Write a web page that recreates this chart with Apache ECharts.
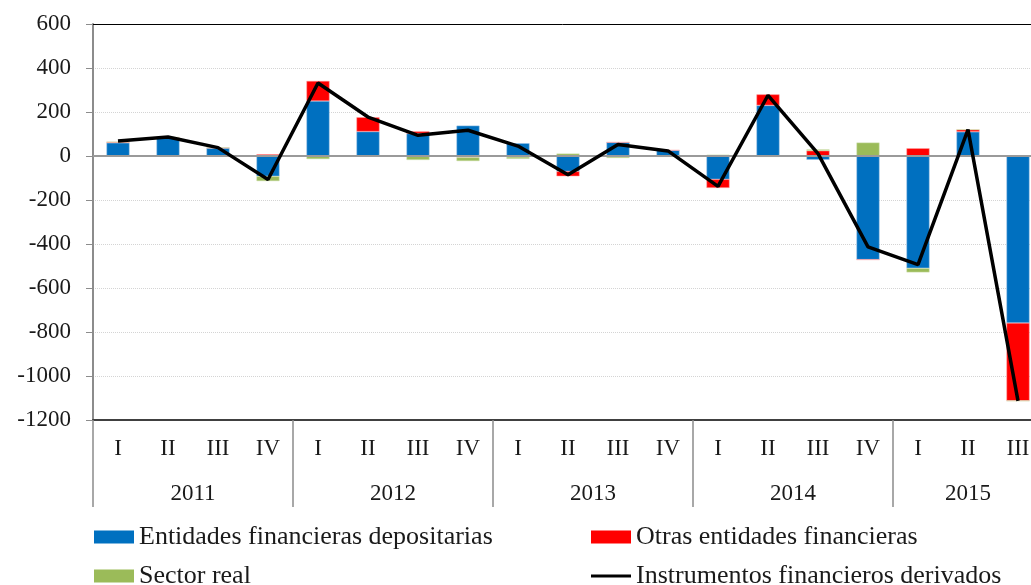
<!DOCTYPE html>
<html>
<head>
<meta charset="utf-8">
<script src="https://cdn.jsdelivr.net/npm/echarts@6/dist/echarts.min.js"></script>
<style>
  html, body { margin: 0; padding: 0; background: #fff; }
  #chart { width: 1031px; height: 585px; }
</style>
</head>
<body>
<div id="chart"></div>
<script>
// quarters on the x axis, grouped by year
const quarters = ['I', 'II', 'III', 'IV', 'I', 'II', 'III', 'IV', 'I', 'II', 'III', 'IV',
  'I', 'II', 'III', 'IV', 'I', 'II', 'III'];
const years = ['2011', '2012', '2013', '2014', '2015'];
const quartersPerYear = [4, 4, 4, 4, 3];

// values
const entidades = [60, 83, 36, -92, 250, 111, 102, 138, 58, -70, 62, 26, -106, 230, -17, -471, -510, 110, -759];
const otras = [4, 2, 2, 8, 91, 65, 10, -6, -4, -22, 0, 0, -39, 50, 24, 0, 35, 10, -354];
const sector = [0, 0, 0, -22, -14, -3, -18, -17, -9, 11, -9, -4, 6, -4, 6, 61, -19, 0, 0];
const derivados = [68, 86, 38, -107, 332, 177, 94, 117, 45, -85, 52, 23, -138, 276, 11, -413, -494, 120, -1113];

const yTicks = { min: -1200, max: 600, step: 200 };

// half-quarter slots so year labels can sit in the middle of each group
const yearSlots = new Array(quarters.length * 2 + 1).fill('');
const yearBounds = [];
let start = 0;
years.forEach((y, i) => {
  yearBounds.push(start * 2);
  yearSlots[start * 2 + quartersPerYear[i]] = y;
  start += quartersPerYear[i];
});

const font = 'Liberation Serif';
const axisTxt = { fontFamily: font, fontSize: 23, color: '#1a1a1a' };
const legendTxt = { fontFamily: font, fontSize: 26, color: '#1a1a1a' };

const myChart = echarts.init(document.getElementById('chart'), null, { renderer: 'canvas' });

const legendItem = (name, left, top, h) => ({
  data: [{ name: name, icon: 'rect' }], left: left, top: top,
  itemWidth: 40, itemHeight: h, itemGap: 0, padding: 0,
  itemStyle: { borderWidth: 0 },
  textStyle: legendTxt, selectedMode: false
});

const option = {
  animation: false,
  backgroundColor: '#fff',
  // plot runs a little past the right edge, as in the original
  grid: { left: 93, right: -12, top: 24, bottom: 165, outerBoundsMode: 'none', containLabel: false },
  legend: [
    legendItem('Entidades financieras depositarias', 94, 524, 13),
    legendItem('Otras entidades financieras', 591, 524, 13),
    legendItem('Sector real', 94, 563, 13),
    legendItem('Instrumentos financieros derivados', 591, 563, 3)
  ],
  xAxis: [
    {
      type: 'category', data: quarters, position: 'bottom',
      axisLine: { onZero: false, lineStyle: { color: '#404040', width: 2 } },
      axisTick: { show: false },
      axisLabel: Object.assign({ margin: 17, interval: 0 }, axisTxt)
    },
    {
      type: 'category', data: yearSlots, position: 'bottom', boundaryGap: false,
      axisLine: { show: false, onZero: false },
      axisTick: { show: true, length: 87, interval: (i) => yearBounds.includes(i), lineStyle: { color: '#8c8c8c', width: 1.5 } },
      axisLabel: Object.assign({ margin: 62, interval: 0 }, axisTxt)
    },
    {
      type: 'category', data: quarters, position: 'top',
      axisLine: { onZero: false, lineStyle: { color: '#000', width: 1 } },
      axisTick: { show: false }, axisLabel: { show: false }
    }
  ],
  yAxis: {
    type: 'value', min: yTicks.min, max: yTicks.max, interval: yTicks.step,
    axisLine: { show: true, lineStyle: { color: '#8c8c8c', width: 2 } },
    axisTick: { show: true, length: 7, lineStyle: { color: '#8c8c8c' } },
    axisLabel: Object.assign({ margin: 22, formatter: (v) => String(v) }, axisTxt),
    splitLine: { lineStyle: { color: '#d4d4d4', type: 'dotted', width: 1 } }
  },
  series: [
    {
      name: 'Entidades financieras depositarias', type: 'bar', stack: 'total', data: entidades,
      barWidth: 23, itemStyle: { color: '#0070C0', borderColor: '#9cc3e6', borderWidth: 0.5 },
      markLine: {
        silent: true, symbol: 'none', label: { show: false },
        lineStyle: { color: '#9a9a9a', width: 2, type: 'solid' },
        data: [{ yAxis: 0 }]
      }
    },
    {
      name: 'Otras entidades financieras', type: 'bar', stack: 'total', data: otras,
      barWidth: 23, itemStyle: { color: '#FF0000', borderColor: '#ff9a9a', borderWidth: 0.5 }
    },
    {
      name: 'Sector real', type: 'bar', stack: 'total', data: sector,
      barWidth: 23, itemStyle: { color: '#9BBB59', borderColor: '#d3e3b5', borderWidth: 0.5 }
    },
    {
      name: 'Instrumentos financieros derivados', type: 'line', data: derivados,
      symbol: 'none', z: 5, color: '#000',
      lineStyle: { color: '#000', width: 3.5 }
    }
  ]
};

myChart.setOption(option);
</script>
</body>
</html>
